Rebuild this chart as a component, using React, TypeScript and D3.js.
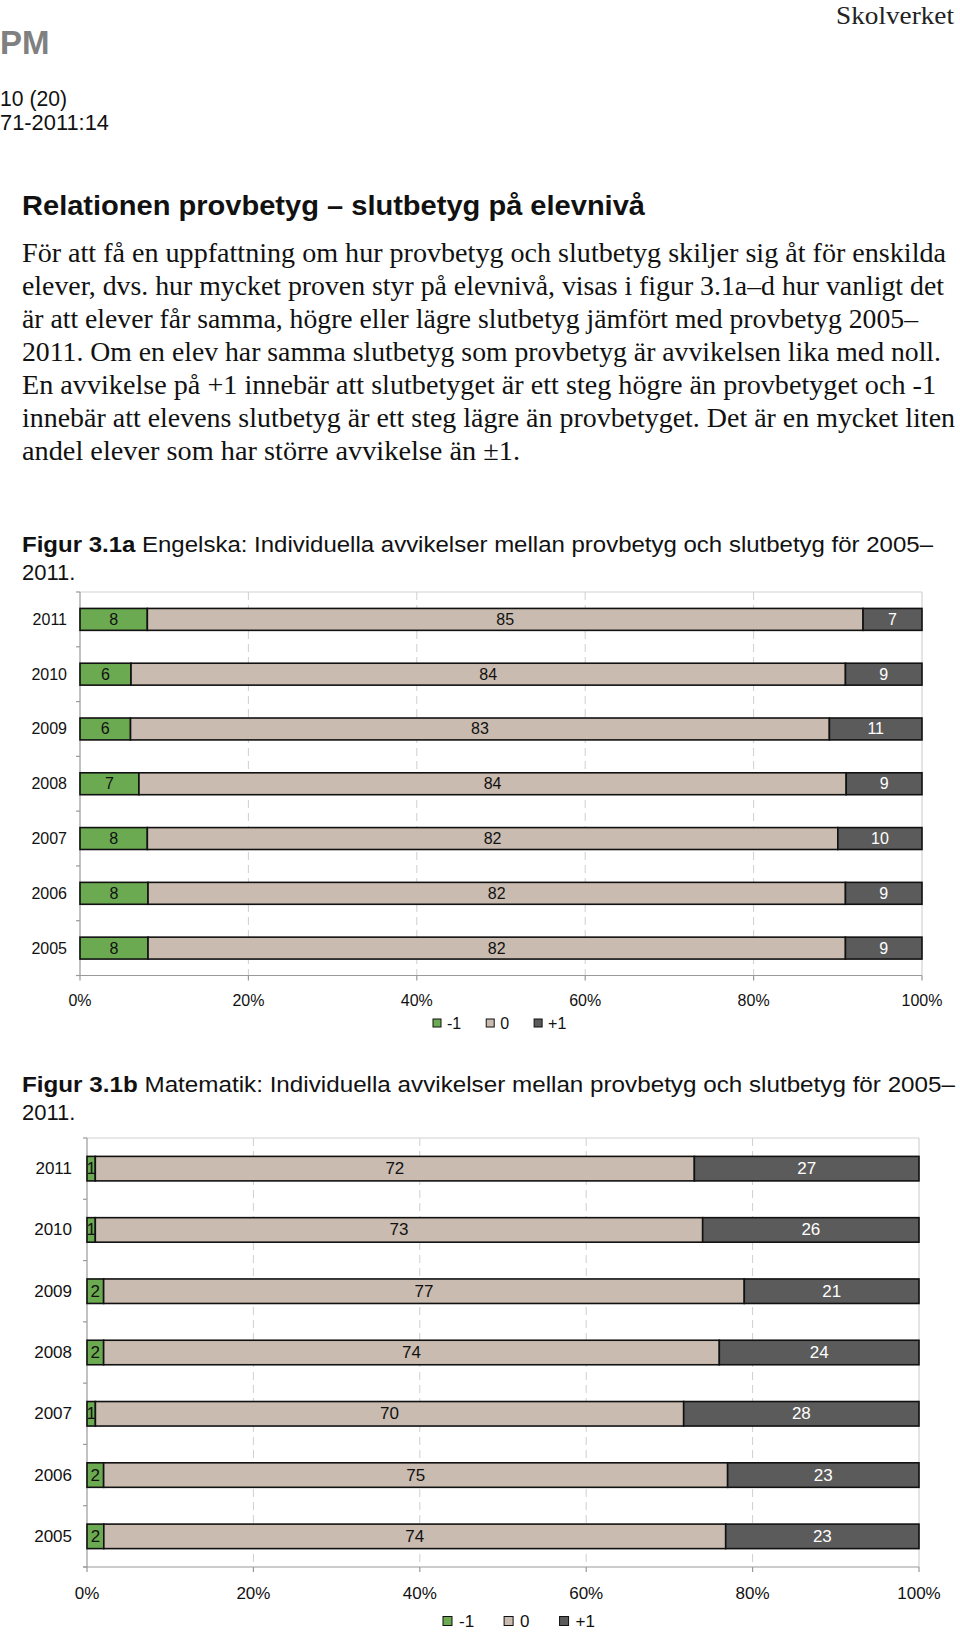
import React from 'react';
import * as d3 from 'd3';

const years = ['2011', '2010', '2009', '2008', '2007', '2006', '2005'];
const seriesKeys = ['-1', '0', '+1'];
const engMinus = [8, 6, 6, 7, 8, 8, 8];
const engZero = [85, 84, 83, 84, 82, 82, 82];
const engPlus = [7, 9, 11, 9, 10, 9, 9];
const matMinus = [1, 1, 2, 2, 1, 2, 2];
const matZero = [72, 73, 77, 74, 70, 75, 74];
const matPlus = [27, 26, 21, 24, 28, 23, 23];
const xTicks = [0, 0.2, 0.4, 0.6, 0.8, 1];

const bodyLines = [
  'För att få en uppfattning om hur provbetyg och slutbetyg skiljer sig åt för enskilda',
  'elever, dvs. hur mycket proven styr på elevnivå, visas i figur 3.1a–d hur vanligt det',
  'är att elever får samma, högre eller lägre slutbetyg jämfört med provbetyg 2005–',
  '2011. Om en elev har samma slutbetyg som provbetyg är avvikelsen lika med noll.',
  'En avvikelse på +1 innebär att slutbetyget är ett steg högre än provbetyget och -1',
  'innebär att elevens slutbetyg är ett steg lägre än provbetyget. Det är en mycket liten',
  'andel elever som har större avvikelse än ±1.',
];
const bodyLineEnds = [946, 944, 918, 941, 936, 955, 520];

const COLORS = ['#6CAA52', '#C9BBAF', '#5B5B5B'];
const LABEL_COLORS = ['#111', '#111', '#fff'];
const SANS = '"Liberation Sans", Arial, Helvetica, sans-serif';
const SERIF = '"Liberation Serif", "Times New Roman", serif';

type ChartProps = {
  left: number; right: number; top: number; bottom: number;
  minus: number[]; zero: number[]; plus: number[];
  fontSize: number; yLabelX: number; tickLabelY: number; legendY: number;
  legendX: number; legendSq: number; legendGap: number; legendItemGap: number;
};

function Chart(p: ChartProps) {
  const rows = years.map((y, i) => ({ year: y, '-1': p.minus[i], '0': p.zero[i], '+1': p.plus[i] }));
  const stack = d3.stack<any>().keys(seriesKeys).offset(d3.stackOffsetExpand);
  const series = stack(rows);
  const x = d3.scaleLinear().domain([0, 1]).range([p.left, p.right]);
  const y = d3.scaleBand<string>().domain(years).range([p.top, p.bottom]).paddingInner(0.6).paddingOuter(0.3);
  const step = y.step();
  const boundaries = d3.range(years.length + 1).map((i) => p.top + i * step);
  const textW = (s: string) => {
    const w: Record<string, number> = { '-': 0.333, '1': 0.556, '0': 0.556, '+': 0.584 };
    return s.split('').reduce((a, c) => a + (w[c] || 0.556), 0) * p.fontSize;
  };
  let lx = p.legendX;
  const legendItems = seriesKeys.map((k, i) => {
    const item = { k, i, x: lx };
    lx += p.legendSq + p.legendGap + textW(k) + p.legendItemGap;
    return item;
  });
  return (
    <g fontFamily={SANS}>
      {xTicks.slice(1, -1).map((t) => (
        <line key={'g' + t} x1={x(t)} x2={x(t)} y1={p.top} y2={p.bottom} stroke="#cfcfcf" strokeWidth={1} strokeDasharray="8,5" />
      ))}
      <line x1={p.left} x2={p.right} y1={p.top} y2={p.top} stroke="#d2d2d2" strokeWidth={1.2} />
      <line x1={p.right} x2={p.right} y1={p.top} y2={p.bottom} stroke="#d2d2d2" strokeWidth={1.2} />
      <line x1={p.left} x2={p.left} y1={p.top} y2={p.bottom} stroke="#999" strokeWidth={1.2} />
      <line x1={p.left - 4} x2={p.right} y1={p.bottom} y2={p.bottom} stroke="#999" strokeWidth={1.2} />
      {boundaries.map((b, i) => (
        <line key={'lt' + i} x1={p.left - 4} x2={p.left} y1={b} y2={b} stroke="#999" strokeWidth={1.2} />
      ))}
      {xTicks.map((t) => (
        <line key={'bt' + t} x1={x(t)} x2={x(t)} y1={p.bottom} y2={p.bottom + 5} stroke="#999" strokeWidth={1.2} />
      ))}
      {series.map((s, si) => (
        <g key={s.key}>
          {s.map((d, i) => (
            <rect key={i} x={x(d[0])} y={y(years[i])} width={x(d[1]) - x(d[0])} height={y.bandwidth()}
              fill={COLORS[si]} stroke="#111" strokeWidth={1.6} />
          ))}
        </g>
      ))}
      {series.map((s, si) => (
        <g key={'l' + s.key}>
          {s.map((d, i) => (
            <text key={i} x={(x(d[0]) + x(d[1])) / 2} y={(y(years[i]) as number) + y.bandwidth() / 2}
              textAnchor="middle" dominantBaseline="central" fontSize={p.fontSize} fill={LABEL_COLORS[si]}>
              {(rows[i] as any)[s.key]}
            </text>
          ))}
        </g>
      ))}
      {years.map((yr) => (
        <text key={'y' + yr} x={p.yLabelX} y={(y(yr) as number) + y.bandwidth() / 2} textAnchor="end"
          dominantBaseline="central" fontSize={p.fontSize} fill="#111">{yr}</text>
      ))}
      {xTicks.map((t) => (
        <text key={'xl' + t} x={x(t)} y={p.tickLabelY} textAnchor="middle" dominantBaseline="central"
          fontSize={p.fontSize} fill="#111">{d3.format('.0%')(t)}</text>
      ))}
      {legendItems.map((it) => (
        <g key={'lg' + it.k}>
          <rect x={it.x} y={p.legendY - p.legendSq / 2} width={p.legendSq} height={p.legendSq}
            fill={COLORS[it.i]} stroke="#111" strokeWidth={1} />
          <text x={it.x + p.legendSq + p.legendGap} y={p.legendY} dominantBaseline="central"
            fontSize={p.fontSize} fill="#111">{it.k}</text>
        </g>
      ))}
    </g>
  );
}

export default function App() {
  return (
    <svg width={960} height={1632} style={{ position: 'absolute', left: 0, top: 0, background: '#fff' }}>
      <rect x={0} y={0} width={960} height={1632} fill="#fff" />
      <text x={954} y={24} textAnchor="end" fontFamily={SERIF} fontSize={26} fill="#222"
        textLength={118} lengthAdjust="spacingAndGlyphs">Skolverket</text>
      <text x={0} y={54} fontFamily={SANS} fontWeight="bold" fontSize={33} fill="#808080">PM</text>
      <text x={0} y={106} fontFamily={SANS} fontSize={22} fill="#111" textLength={67} lengthAdjust="spacingAndGlyphs">10 (20)</text>
      <text x={0} y={130} fontFamily={SANS} fontSize={22} fill="#111" textLength={109} lengthAdjust="spacingAndGlyphs">71-2011:14</text>

      <text x={22} y={215} fontFamily={SANS} fontWeight="bold" fontSize={28} fill="#111"
        textLength={623} lengthAdjust="spacingAndGlyphs">
        Relationen provbetyg – slutbetyg på elevnivå
      </text>
      {bodyLines.map((l, i) => (
        <text key={i} x={22} y={262 + i * 33} fontFamily={SERIF} fontSize={27} fill="#111"
          textLength={bodyLineEnds[i] - 22} lengthAdjust="spacingAndGlyphs">{l}</text>
      ))}

      <text x={22} y={552} fontFamily={SANS} fontSize={22} fill="#111" textLength={911} lengthAdjust="spacingAndGlyphs">
        <tspan fontWeight="bold">Figur 3.1a</tspan> Engelska: Individuella avvikelser mellan provbetyg och slutbetyg för 2005–
      </text>
      <text x={22} y={580} fontFamily={SANS} fontSize={22} fill="#111">2011.</text>

      <Chart left={80} right={922} top={592} bottom={975.5} minus={engMinus} zero={engZero} plus={engPlus}
        fontSize={16} yLabelX={67} tickLabelY={1000} legendY={1023} legendX={433} legendSq={8}
        legendGap={6} legendItemGap={25} />

      <text x={22} y={1092} fontFamily={SANS} fontSize={22} fill="#111" textLength={933} lengthAdjust="spacingAndGlyphs">
        <tspan fontWeight="bold">Figur 3.1b</tspan> Matematik: Individuella avvikelser mellan provbetyg och slutbetyg för 2005–
      </text>
      <text x={22} y={1120} fontFamily={SANS} fontSize={22} fill="#111">2011.</text>

      <Chart left={87} right={919} top={1138} bottom={1567} minus={matMinus} zero={matZero} plus={matPlus}
        fontSize={17} yLabelX={72} tickLabelY={1593} legendY={1621} legendX={443} legendSq={9}
        legendGap={7} legendItemGap={30} />
    </svg>
  );
}
